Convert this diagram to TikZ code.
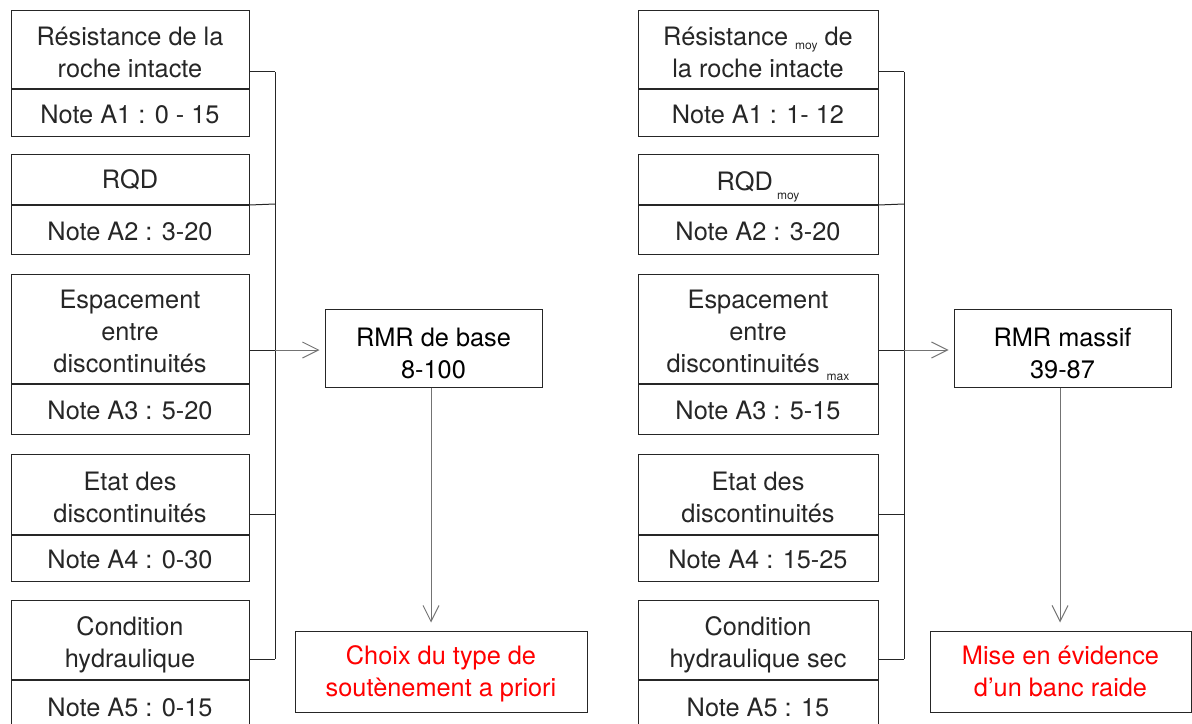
\documentclass[tikz,border=0pt]{standalone}
\usepackage{fontspec}
\setmainfont{TeX Gyre Heros}
\usetikzlibrary{arrows.meta}

\tikzset{every picture/.style={line width=0.75pt}}
\tikzset{
  crit/.style={draw=black!85, minimum width=178.5pt, inner sep=0pt, align=center,
    anchor=north, text=black!85, font=\fontsize{19}{24}\selectfont},
  critR/.style={crit, minimum width=180pt},
  resultat/.style={draw=black!85, minimum width=162.75pt, minimum height=58.5pt,
    inner sep=0pt, align=center, font=\fontsize{19}{24}\selectfont},
  bilan/.style={draw=black!85, minimum height=60.75pt, inner sep=0pt, align=center,
    text=red, font=\fontsize{19}{24}\selectfont},
  lien/.style={black!85},
  fleche/.style={black!55, -{Straight Barb[length=12pt,width=12pt]}},
}
% texte descendu dans sa boite
\newcommand{\bloc}[2][2pt]{\raisebox{-#1}[\dimexpr\height+#1\relax][\dimexpr\depth-#1\relax]{\begin{tabular}{@{}c@{}}#2\end{tabular}}}
\newcommand{\indice}[2][-0.35ex]{\raisebox{#1}{\fontsize{9}{9}\selectfont #2}}

\begin{document}
\begin{tikzpicture}[x=0.75pt,y=0.75pt,yscale=-1,xscale=1]
        \useasboundingbox (0,0) rectangle (1192,724);

        % Colonne gauche
        \node[crit, minimum height=58.5pt] (res) at (130,10) {\bloc{R\'esistance de la\\roche intacte}};
        \node[crit, minimum height=35.25pt] (resN) at (res.south) {\bloc[1.5pt]{Note A1 : 0 - 15}};
        \node[crit, minimum height=37.5pt] (rqd) at (130,154) {\bloc[1pt]{RQD}};
        \node[crit, minimum height=36.75pt] (rqdN) at (rqd.south) {\bloc[1.5pt]{Note A2 : 3-20}};
        \node[crit, minimum height=81.75pt] (esp) at (130,274) {\bloc{Espacement\\entre\\discontinuit\'es}};
        \node[crit, minimum height=37.5pt] (espN) at (esp.south) {\bloc[1.5pt]{Note A3 : 5-20}};
        \node[crit, minimum height=60pt] (etat) at (130,454) {\bloc{Etat des\\discontinuit\'es}};
        \node[crit, minimum height=34.5pt] (etatN) at (etat.south) {\bloc[1.5pt]{Note A4 : 0-30}};
        \node[crit, minimum height=59.25pt] (hyd) at (130,600) {\bloc{Condition\\hydraulique}};
        \node[crit, minimum height=39pt] (hydN) at (hyd.south) {\bloc[1.5pt]{Note A5 : 0-15}};

        % Resultats gauche
        \node[resultat] (rmrBase) at (433.5,348) {\bloc[3pt]{RMR de base\\8-100}};
        \node[bilan, minimum width=219pt] (choix) at (441,671.5) {\bloc[1pt]{Choix du type de\\sout\`enement a priori}};

        % Colonne droite
        \node[critR, minimum height=58.5pt] (resM) at (758,10) {\bloc{R\'esistance \indice{moy} de\\la roche intacte}};
        \node[critR, minimum height=35.25pt] (resMN) at (resM.south) {\bloc[1.5pt]{Note A1 : 1- 12}};
        \node[critR, minimum height=37.5pt] (rqdM) at (758,154) {\bloc[2pt]{RQD\,\indice[-0.7ex]{moy}}};
        \node[critR, minimum height=36.75pt] (rqdMN) at (rqdM.south) {\bloc[1.5pt]{Note A2 : 3-20}};
        \node[critR, minimum height=81.75pt] (espM) at (758,274) {\bloc{Espacement\\entre\\discontinuit\'es \indice[-0.6ex]{max}}};
        \node[critR, minimum height=37.5pt] (espMN) at (espM.south) {\bloc[1.5pt]{Note A3 : 5-15}};
        \node[critR, minimum height=60pt] (etatM) at (758,454) {\bloc{Etat des\\discontinuit\'es}};
        \node[critR, minimum height=34.5pt] (etatMN) at (etatM.south) {\bloc[1.5pt]{Note A4 : 15-25}};
        \node[critR, minimum height=59.25pt] (hydM) at (758,600) {\bloc{Condition\\hydraulique sec}};
        \node[critR, minimum height=39pt] (hydMN) at (hydM.south) {\bloc[1.5pt]{Note A5 : 15}};

        % Resultats droite
        \node[resultat] (rmrMassif) at (1062.5,348) {\bloc[3pt]{RMR massif\\39-87}};
        \node[bilan, minimum width=195.75pt] (banc) at (1060.5,671.5) {\bloc[1pt]{Mise en \'evidence\\d'un banc raide}};

        % Bus gauche
        \coordinate (busL1) at (275,72);
        \coordinate (busL2) at (275,204);
        \coordinate (busL3) at (275,350);
        \coordinate (busL4) at (275,514);
        \coordinate (busL5) at (275,659);
        \draw[lien] (busL1) -- (busL5);
        \draw[lien] (res.east |- busL1) -- (busL1);
        \draw[lien] (rqd.south east) -- (busL2);
        \draw[lien] (esp.east |- busL3) -- (busL3);
        \draw[lien] (etat.east |- busL4) -- (busL4);
        \draw[lien] (hyd.east |- busL5) -- (busL5);
        \draw[fleche, shorten >=3.75pt] (busL3) -- (rmrBase.west |- busL3);
        \draw[fleche, shorten >=6pt] (rmrBase.south -| 431,0) -- (choix.north -| 431,0);

        % Bus droite
        \coordinate (busR1) at (904,72);
        \coordinate (busR2) at (904,204);
        \coordinate (busR3) at (904,350);
        \coordinate (busR4) at (904,514);
        \coordinate (busR5) at (904,659);
        \draw[lien] (busR1) -- (busR5);
        \draw[lien] (resM.east |- busR1) -- (busR1);
        \draw[lien] (rqdM.south east) -- (busR2);
        \draw[lien] (espM.east |- busR3) -- (busR3);
        \draw[lien] (etatM.east |- busR4) -- (busR4);
        \draw[lien] (hydM.east |- busR5) -- (busR5);
        \draw[fleche, shorten >=3.75pt] (busR3) -- (rmrMassif.west |- busR3);
        \draw[fleche, shorten >=6pt] (rmrMassif.south -| 1060,0) -- (banc.north -| 1060,0);

    \end{tikzpicture}
\end{document}
